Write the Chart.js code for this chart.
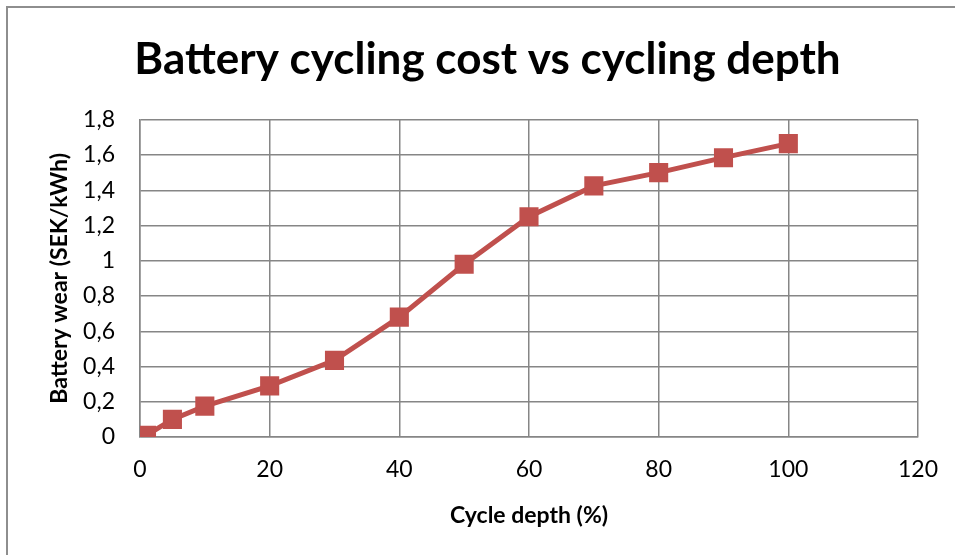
<!DOCTYPE html>
<html lang="en">
<head>
  <meta charset="UTF-8">
  <title>Battery cycling cost vs cycling depth</title>
  <script src="https://cdn.jsdelivr.net/npm/chart.js"></script>
  <style>
    body {
      margin: 0;
      padding: 0;
      background: #fff;
      overflow: hidden;
    }
    .frame {
      position: absolute;
      left: 6px;
      top: 6px;
      width: 1000px;
      height: 600px;
      border-top: 2px solid #8e8e8e;
      border-left: 2px solid #8e8e8e;
    }
    .chart-container {
      position: absolute;
      left: 0;
      top: 0;
      width: 955px;
      height: 555px;
    }
  </style>
</head>
<body>
  <div class="frame"></div>
  <div class="chart-container">
    <canvas id="wearChart"></canvas>
  </div>

  <script>
    // cycle depth (%) and battery wear (SEK/kWh)
    const cycleDepth = [1, 5, 10, 20, 30, 40, 50, 60, 70, 80, 90, 100];
    const batteryWear = [0.01, 0.10, 0.175, 0.29, 0.435, 0.68, 0.98, 1.25, 1.425, 1.50, 1.585, 1.665];

    const gridColor = '#868686';
    const fontFamily = 'Lato, "Open Sans", sans-serif';

    const points = cycleDepth.map((x, i) => ({ x: x, y: batteryWear[i] }));

    const ctx = document.getElementById('wearChart').getContext('2d');

    const wearChart = new Chart(ctx, {
      type: 'scatter',
      data: {
        datasets: [{
          label: 'Battery wear',
          data: points,
          showLine: true,
          borderColor: '#c0504d',
          backgroundColor: '#c0504d',
          borderWidth: 5,
          pointStyle: 'rect',
          pointRadius: 13.5,
          pointHoverRadius: 13.5,
          pointBorderWidth: 0,
          tension: 0
        }]
      },
      options: {
        responsive: true,
        maintainAspectRatio: false,
        animation: false,
        layout: {
          padding: { left: 20, right: 0, top: 0, bottom: 0 }
        },
        plugins: {
          legend: { display: false },
          tooltip: { enabled: false },
          title: {
            display: true,
            text: 'Battery cycling cost vs cycling depth',
            color: '#000',
            font: { family: fontFamily, size: 44, weight: 'bold' },
            padding: { top: 33, bottom: 34 }
          }
        },
        scales: {
          x: {
            type: 'linear',
            min: 0,
            max: 120,
            ticks: {
              stepSize: 20,
              color: '#000',
              padding: 19,
              font: { family: fontFamily, size: 23 }
            },
            grid: { color: gridColor, lineWidth: 1.5, drawTicks: false },
            border: { color: gridColor, width: 1.5 },
            title: {
              display: true,
              text: 'Cycle depth (%)',
              color: '#000',
              font: { family: fontFamily, size: 23, weight: 'bold' },
              padding: { top: 4, bottom: 26 }
            },
            afterFit: function (scale) {
              scale.height = 118;
              scale.paddingRight = 37;
            }
          },
          y: {
            min: 0,
            max: 1.8,
            ticks: {
              stepSize: 0.2,
              color: '#000',
              padding: 25,
              font: { family: fontFamily, size: 23 },
              callback: function (value) {
                return String(Math.round(value * 10) / 10).replace('.', ',');
              }
            },
            grid: { color: gridColor, lineWidth: 1.5, drawTicks: false },
            border: { color: gridColor, width: 1.5 },
            title: {
              display: true,
              text: 'Battery wear (SEK/kWh)',
              color: '#000',
              font: { family: fontFamily, size: 23, weight: 'bold' },
              padding: { top: 26, bottom: 4 }
            },
            afterFit: function (scale) { scale.width = 120; }
          }
        }
      }
    });
  </script>
</body>
</html>
